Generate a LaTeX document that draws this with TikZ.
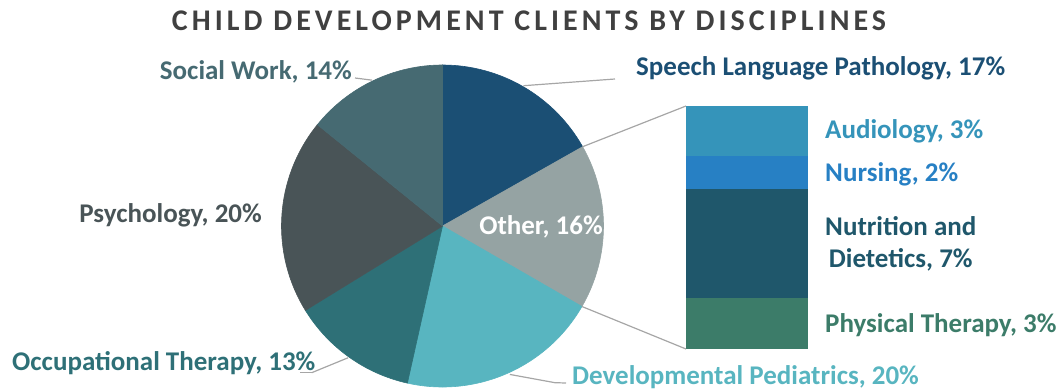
\documentclass[tikz,border=0pt]{standalone}
\usepackage{fontspec}
\setmainfont{Carlito}
\newfontfamily\titlefont[LetterSpace=13.5]{Carlito}
\definecolor{speechc}{HTML}{1B4F74}
\definecolor{otherc}{HTML}{95A3A3}
\definecolor{pedc}{HTML}{58B5C0}
\definecolor{occc}{HTML}{2E7077}
\definecolor{psychc}{HTML}{495457}
\definecolor{socialc}{HTML}{466A72}
\definecolor{audioc}{HTML}{3594BA}
\definecolor{nursec}{HTML}{2780C4}
\definecolor{nutric}{HTML}{1F576B}
\definecolor{physc}{HTML}{3C7C69}
\definecolor{titlec}{HTML}{404040}
\definecolor{leaderc}{HTML}{A6A6A6}
\begin{document}
\begin{tikzpicture}[x=1pt,y=1pt]

        \useasboundingbox (0,0) rectangle (1059,389);
        \coordinate (c) at (442.5,163);

        \begin{scope}[every path/.style={draw=white, line width=0.6pt}]
          \fill[speechc] (c) -- ++(90:161)    arc[start angle=90,    end angle=29.5,   radius=161] -- cycle;
          \fill[otherc]  (c) -- ++(29.5:161)  arc[start angle=29.5,  end angle=-30,    radius=161] -- cycle;
          \fill[pedc]    (c) -- ++(-30:161)   arc[start angle=-30,   end angle=-102.6, radius=161] -- cycle;
          \fill[occc]    (c) -- ++(-102.6:161) arc[start angle=-102.6, end angle=-148.4, radius=161] -- cycle;
          \fill[psychc]  (c) -- ++(-148.4:161) arc[start angle=-148.4, end angle=-219,  radius=161] -- cycle;
          \fill[socialc] (c) -- ++(141:161)   arc[start angle=141,   end angle=90,     radius=161] -- cycle;
        \end{scope}

        \fill[audioc] (686,283) rectangle (808,233);
        \fill[nursec] (686,233) rectangle (808,200);
        \fill[nutric] (686,200) rectangle (808,91);
        \fill[physc]  (686,91)  rectangle (808,40);

        \path (c) ++(115.8:162)  coordinate (sw);
        \path (c) ++(60:162)     coordinate (sp);
        \path (c) ++(-125.6:162) coordinate (oc);
        \path (c) ++(-65.6:163)  coordinate (dp);
        \path (c) ++(29.5:161)   coordinate (ot1);
        \path (c) ++(-30:161)    coordinate (ot2);
        \coordinate (bt) at (686,283);
        \coordinate (bb) at (686,40);
        \coordinate (swl) at (355,311);
        \coordinate (spl) at (615,310);
        \coordinate (ocm) at (311.7,16.3);
        \coordinate (ocl) at (300,16.3);
        \coordinate (dpm) at (555,6.3);
        \coordinate (dpl) at (566,6);

        \node[font=\titlefont\bfseries\fontsize{30}{34}\selectfont, text=titlec] (title) at (529,368)
          {CHILD DEVELOPMENT CLIENTS BY DISCIPLINES};

        \begin{scope}[every node/.style={font=\bfseries\fontsize{27}{32}\selectfont, inner sep=0pt}]
          \node[anchor=east, text=socialc] (social) at (352,317) {Social Work, 14\%};
          \node[anchor=west, text=speechc] (speech) at (636,321) {Speech Language Pathology, 17\%};
          \node[anchor=east, text=psychc]  (psych)  at (262,174) {Psychology, 20\%};
          \node[anchor=west, text=occc]    (occ)    at (12,26)   {Occupational Therapy, 13\%};
          \node[anchor=west, text=pedc]    (ped)    at (572,12)  {Developmental Pediatrics, 20\%};
          \node[text=white]                (other)  at (541,162) {Other, 16\%};
          \node[anchor=west, text=audioc]  (audio)  at (825,258) {Audiology, 3\%};
          \node[anchor=west, text=nursec]  (nurse)  at (825,215) {Nursing, 2\%};
          \node[anchor=west, text=nutric, align=center] (nutri) at (825,145) {Nutrition and\\Dietetics, 7\%};
          \node[anchor=west, text=physc]   (phys)   at (825,64)  {Physical Therapy, 3\%};
        \end{scope}

        \begin{scope}[every edge/.style={draw=leaderc, line width=1.2pt}]
          \path (swl) edge (sw);
          \path (sp)  edge (spl);
          \path (ocl) edge (ocm);
          \path (ocm) edge (oc);
          \path (dp)  edge (dpm);
          \path (dpm) edge (dpl);
          \path (ot1) edge (bt);
          \path (ot2) edge (bb);
        \end{scope}

      \end{tikzpicture}
\end{document}
